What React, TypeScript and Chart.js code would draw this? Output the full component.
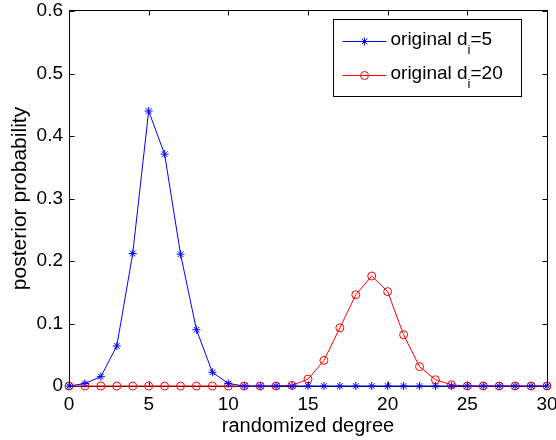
import React, { useEffect, useRef } from 'react';
import { Chart, registerables } from 'chart.js';

Chart.register(...registerables);

const degrees = [0, 1, 2, 3, 4, 5, 6, 7, 8, 9, 10, 11, 12, 13, 14, 15, 16, 17, 18, 19, 20, 21, 22, 23, 24, 25, 26, 27, 28, 29, 30];
const seriesD5 = [0, 0.004, 0.015, 0.064, 0.212, 0.44, 0.371, 0.211, 0.09, 0.022, 0.004, 0, 0, 0, 0, 0, 0, 0, 0, 0, 0, 0, 0, 0, 0, 0, 0, 0, 0, 0, 0];
const seriesD20 = [0, 0, 0, 0, 0, 0, 0, 0, 0, 0, 0, 0, 0, 0, 0.001, 0.011, 0.041, 0.093, 0.146, 0.176, 0.151, 0.082, 0.031, 0.01, 0.002, 0, 0, 0, 0, 0, 0];
const seriesNames = ['original d_i=5', 'original d_i=20'];
const xTickLabels = ['0', '5', '10', '15', '20', '25', '30'];
const yTickLabels = ['0', '0.1', '0.2', '0.3', '0.4', '0.5', '0.6'];
const xTitle = 'randomized degree';
const yTitle = 'posterior probability';

const FONT = '"Liberation Sans", Arial, Helvetica, sans-serif';
const BLUE = '#0000ff';
const RED = '#ff0000';

function drawRich(ctx: CanvasRenderingContext2D, text: string, x: number, baseline: number) {
  const parts = text.split(/_(.)/);
  let cx = x;
  parts.forEach((p, i) => {
    if (i % 2 === 1) {
      ctx.font = `13px ${FONT}`;
      ctx.fillText(p, cx, baseline + 9);
      cx += ctx.measureText(p).width;
    } else {
      ctx.font = `19px ${FONT}`;
      ctx.fillText(p, cx, baseline);
      cx += ctx.measureText(p).width;
    }
  });
}

function drawMarker(ctx: CanvasRenderingContext2D, style: string, x: number, y: number, r: number) {
  ctx.beginPath();
  if (style === 'star') {
    ctx.moveTo(x - r, y); ctx.lineTo(x + r, y);
    ctx.moveTo(x, y - r); ctx.lineTo(x, y + r);
    const d = r * Math.SQRT1_2;
    ctx.moveTo(x - d, y - d); ctx.lineTo(x + d, y + d);
    ctx.moveTo(x - d, y + d); ctx.lineTo(x + d, y - d);
  } else {
    ctx.arc(x, y, r, 0, Math.PI * 2);
  }
  ctx.stroke();
}

const boxPlugin = {
  id: 'matlabBox',
  beforeDatasetsDraw(chart: any) {
    const { ctx, chartArea } = chart;
    const { left, right, top, bottom } = chartArea;
    const L = Math.round(left) + 0.5, R = Math.round(right) + 0.5;
    const T = Math.round(top) - 0.5, B = Math.round(bottom) + 0.5;
    ctx.save();
    ctx.strokeStyle = '#000';
    ctx.lineWidth = 1;
    ctx.strokeRect(L, T, R - L, B - T);
    const tl = 5;
    ctx.beginPath();
    const xs = chart.scales.x;
    xs.ticks.forEach((t: any) => {
      const px = Math.round(xs.getPixelForValue(t.value)) + 0.5;
      ctx.moveTo(px, B); ctx.lineTo(px, B - tl);
      ctx.moveTo(px, T); ctx.lineTo(px, T + tl);
    });
    const ys = chart.scales.y;
    ys.ticks.forEach((t: any) => {
      const py = Math.round(ys.getPixelForValue(t.value)) + 0.5;
      ctx.moveTo(L, py); ctx.lineTo(L + tl, py);
      ctx.moveTo(R, py); ctx.lineTo(R - tl, py);
    });
    ctx.stroke();
    ctx.restore();
  },
};

const legendPlugin = {
  id: 'matlabLegend',
  afterDatasetsDraw(chart: any) {
    const { ctx, chartArea } = chart;
    const bx1 = Math.round(chartArea.right) - 25.5;
    const bx0 = bx1 - 188;
    const by0 = Math.round(chartArea.top) + 8.5;
    const by1 = by0 + 77;
    ctx.save();
    ctx.fillStyle = '#fff';
    ctx.fillRect(bx0, by0, bx1 - bx0, by1 - by0);
    ctx.strokeStyle = '#000';
    ctx.lineWidth = 1;
    ctx.strokeRect(bx0, by0, bx1 - bx0, by1 - by0);
    chart.data.datasets.forEach((ds: any, i: number) => {
      const cy = Math.round(by0 + 21 + i * 34) + 0.5;
      ctx.strokeStyle = ds.borderColor;
      ctx.lineWidth = 1;
      ctx.beginPath();
      ctx.moveTo(bx0 + 9, cy);
      ctx.lineTo(bx0 + 53, cy);
      ctx.stroke();
      drawMarker(ctx, ds.pointStyle, bx0 + 31, cy, 4);
      ctx.fillStyle = '#000';
      ctx.textBaseline = 'alphabetic';
      ctx.textAlign = 'left';
      drawRich(ctx, seriesNames[i], bx0 + 57, cy + 3.5);
    });
    ctx.restore();
  },
};

export default function App() {
  const ref = useRef<HTMLCanvasElement | null>(null);
  useEffect(() => {
    if (!ref.current) return;
    const chart = new Chart(ref.current, {
      type: 'line',
      data: {
        datasets: [
          {
            label: seriesNames[0],
            data: degrees.map((d, i) => ({ x: d, y: seriesD5[i] })),
            borderColor: BLUE,
            backgroundColor: BLUE,
            pointStyle: 'star',
            pointRadius: 4,
            pointBorderWidth: 1,
            pointBorderColor: BLUE,
            borderWidth: 1,
            tension: 0,
            clip: false,
          } as any,
          {
            label: seriesNames[1],
            data: degrees.map((d, i) => ({ x: d, y: seriesD20[i] })),
            borderColor: RED,
            backgroundColor: 'rgba(0,0,0,0)',
            pointStyle: 'circle',
            pointRadius: 4,
            pointBorderWidth: 1,
            pointBorderColor: RED,
            pointBackgroundColor: 'rgba(0,0,0,0)',
            borderWidth: 1,
            tension: 0,
            clip: false,
          } as any,
        ],
      },
      options: {
        animation: false,
        responsive: false,
        devicePixelRatio: 1,
        layout: { padding: { top: 11, right: 9, left: 0, bottom: 0 } },
        plugins: { legend: { display: false }, tooltip: { enabled: false } },
        scales: {
          x: {
            type: 'linear',
            min: 0,
            max: 30,
            grid: { display: false, drawTicks: false },
            border: { display: false },
            ticks: {
              stepSize: 5,
              color: '#000',
              padding: 7,
              font: { family: FONT, size: 19 },
              maxRotation: 0,
              callback: (v: any) => xTickLabels.find((l) => Number(l) === Number(v)) ?? '',
            },
            title: {
              display: true,
              text: xTitle,
              color: '#000',
              font: { family: FONT, size: 20 },
              padding: { top: 0, bottom: 2 },
            },
            afterFit: (s: any) => {
              s.height = 54;
              s.paddingLeft = 0;
              s.paddingRight = 0;
            },
          },
          y: {
            type: 'linear',
            min: 0,
            max: 0.6,
            grid: { display: false, drawTicks: false },
            border: { display: false },
            ticks: {
              stepSize: 0.1,
              color: '#000',
              padding: 6,
              font: { family: FONT, size: 19 },
              callback: (v: any) =>
                yTickLabels.find((l) => Math.abs(Number(l) - Number(v)) < 1e-9) ?? '',
            },
            title: {
              display: true,
              text: yTitle,
              color: '#000',
              font: { family: FONT, size: 21 },
              padding: { top: 8, bottom: 0 },
            },
            afterFit: (s: any) => {
              s.width = 69;
              s.paddingTop = 0;
              s.paddingBottom = 0;
            },
          },
        },
      } as any,
      plugins: [boxPlugin, legendPlugin],
    });
    return () => chart.destroy();
  }, []);
  return (
    <div style={{ position: 'fixed', left: 0, top: 0, width: 556, height: 440, background: '#fff' }}>
      <canvas ref={ref} width={556} height={440} style={{ display: 'block' }} />
    </div>
  );
}
